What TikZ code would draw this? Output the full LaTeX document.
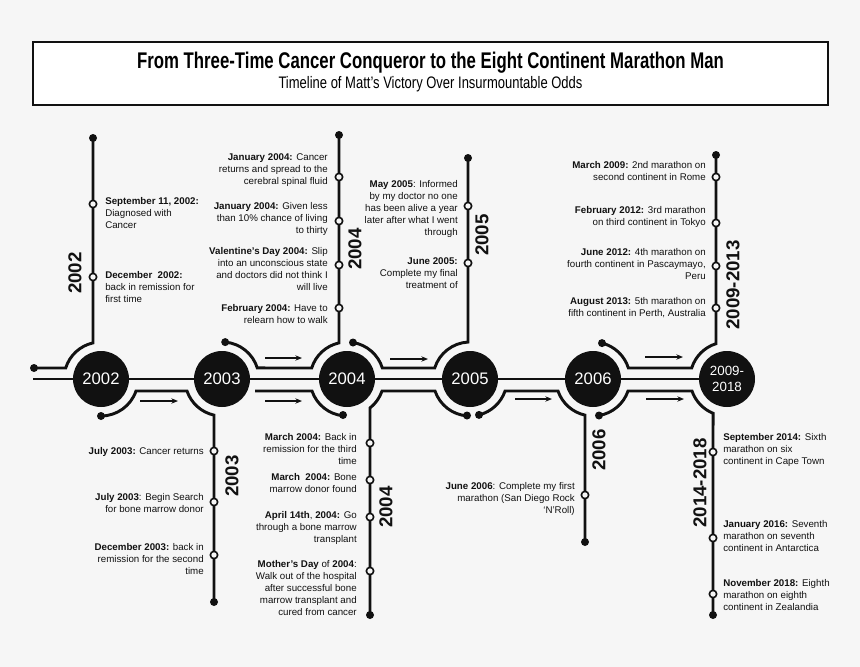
\documentclass[tikz,border=0pt]{standalone}
\usepackage{fontspec}
\setmainfont{Liberation Sans}
\usetikzlibrary{arrows.meta}
\definecolor{bg}{HTML}{F6F6F6}
\definecolor{ink}{HTML}{111111}
\begin{document}
\begin{tikzpicture}[x=0.75pt,y=-0.75pt,
  track/.style={draw=ink,line width=2.2pt},
  mainl/.style={draw=ink,line width=1.5pt},
  yr/.style={circle,fill=ink,minimum size=42pt,inner sep=0,text=white,font=\fontsize{12.5}{13}\selectfont},
  enddot/.style={circle,fill=ink,minimum size=6pt,inner sep=0},
  mk/.style={circle,draw=ink,fill=bg,line width=1.2pt,minimum size=5.5pt,inner sep=0},
  arr/.style={draw=ink,line width=1pt,-{Stealth[length=5pt,width=4pt]}},
  lab/.style={rotate=90,font=\bfseries\fontsize{14}{14}\selectfont,text=ink},
  txl/.style={anchor=north east,align=right,inner sep=0,font=\fontsize{7.3}{9}\selectfont,text=ink},
  txr/.style={anchor=north west,align=left,inner sep=0,font=\fontsize{7.3}{9}\selectfont,text=ink}]
\fill[bg] (0,0) rectangle (860,667);
\useasboundingbox (0,0) rectangle (860,667);
% title
\node[draw=ink,line width=1.6pt,minimum width=596pt,minimum height=47pt,fill=white] (tbox) at (430.5,73.5) {};
\node (t1) at (430.5,63) {\scalebox{0.74}[1]{\bfseries\fontsize{17}{18}\selectfont From Three-Time Cancer Conqueror to the Eight Continent Marathon Man}};
\node (t2) at (430.5,84) {\scalebox{0.78}[1]{\fontsize{12.5}{13}\selectfont Timeline of Matt’s Victory Over Insurmountable Odds}};
% main line
\draw[mainl] (33,379) -- (727,379);
% tracks
\draw[track] (34,368) -- (65.7,368) arc[start angle=197.3,end angle=257.5,radius=37] -- (93,138);
\draw[track] (101,416) arc[start angle=90,end angle=18.9,radius=37] -- (187,391) arc[start angle=161.1,end angle=102.5,radius=37] -- (214,602);
\draw[track] (225.2,342.1) arc[start angle=-85,end angle=-17.3,radius=37] -- (311.7,368) arc[start angle=197.3,end angle=257.5,radius=37] -- (339,135);
\draw[track] (255,391) -- (312,391) arc[start angle=161.1,end angle=96,radius=37];
\draw[track] (370,615) -- (370,408) arc[start angle=51.6,end angle=18.9,radius=37] -- (435,391) arc[start angle=161.1,end angle=94.6,radius=37];
\draw[track] (353,342.5) arc[start angle=-80.7,end angle=-17.3,radius=37] -- (434.7,368) arc[start angle=197.3,end angle=266.9,radius=37] -- (468,158);
\draw[track] (479,414.9) arc[start angle=76,end angle=18.9,radius=37] -- (558,391) arc[start angle=161.1,end angle=102.5,radius=37] -- (585,542);
\draw[track] (602,343.1) arc[start angle=-76,end angle=-17.3,radius=37] -- (691.7,368) arc[start angle=197.3,end angle=252.7,radius=37] -- (716,155);
\draw[track] (599,415.5) arc[start angle=80.7,end angle=18.9,radius=37] -- (692,391) arc[start angle=161.1,end angle=112.2,radius=37] -- (713,615);
% end dots
\foreach \p/\n in {{(34,368)}/d1,{(93,138)}/d2,{(101,416)}/d3,{(214,602)}/d4,{(225.2,342.1)}/d5,{(339,135)}/d6,{(343,415)}/d7,{(370,615)}/d8,{(467,415.5)}/d9,{(353,342.5)}/d10,{(468,158)}/d11,{(479,414.9)}/d12,{(585,542)}/d13,{(602,343.1)}/d14,{(716,155)}/d15,{(599,415.5)}/d16,{(713,615)}/d17}
  \node[enddot] (\n) at \p {};
% year circles
\node[yr] (y2002) at (101,379) {2002};
\node[yr] (y2003) at (222,379) {2003};
\node[yr] (y2004) at (347,379) {2004};
\node[yr] (y2005) at (470,379) {2005};
\node[yr] (y2006) at (593,379) {2006};
\node[yr,align=center,font=\fontsize{10}{12}\selectfont] (y2009) at (727,379) {2009-\\2018};
% arrows
\draw[arr] (140,401) -- (178,401);
\draw[arr] (265,358) -- (302,358);
\draw[arr] (265,401) -- (302,401);
\draw[arr] (390,359) -- (428,359);
\draw[arr] (515,399) -- (552,399);
\draw[arr] (645,357) -- (683,357);
\draw[arr] (646,399) -- (684,399);
% markers
\foreach \p/\n in {{(93,204)}/m1,{(93,277)}/m2,{(339,177)}/m3,{(339,221)}/m4,{(339,265)}/m5,{(339,308)}/m6,{(214,451)}/m7,{(214,502)}/m8,{(214,555)}/m9,{(370,443)}/m10,{(370,480)}/m11,{(370,517)}/m12,{(370,571)}/m13,{(468,206)}/m14,{(468,263)}/m15,{(585,495)}/m16,{(716,177)}/m17,{(716,223)}/m18,{(716,266)}/m19,{(716,308)}/m20,{(713,452)}/m21,{(713,538)}/m22,{(713,594)}/m23}
  \node[mk] (\n) at \p {};
% year labels
\node[lab] (l1) at (75,273) {2002};
\node[lab] (l2) at (232,476) {2003};
\node[lab] (l3) at (355,249) {2004};
\node[lab] (l4) at (386,507) {2004};
\node[lab] (l5) at (482,235) {2005};
\node[lab] (l6) at (599,450) {2006};
\node[lab] (l7) at (733,285) {2009-2013};
\node[lab] (l8) at (700,483) {2014-2018};
% texts
\node[txr] (a1) at (105,197) {\textbf{September 11, 2002:}\\Diagnosed with\\Cancer};
\node[txr] (a2) at (105,271) {\textbf{December\ \ 2002:}\\back in remission for\\first time};
\node[txl] (a3) at (328,153) {\textbf{January 2004:} Cancer\\returns and spread to the\\cerebral spinal fluid};
\node[txl] (a4) at (328,202) {\textbf{January 2004:} Given less\\than 10\% chance of living\\to thirty};
\node[txl] (a5) at (328,247) {\textbf{Valentine’s Day 2004:} Slip\\into an unconscious state\\and doctors did not think I\\will live};
\node[txl] (a6) at (328,304) {\textbf{February 2004:} Have to\\relearn how to walk};
\node[txl] (a7) at (204,447) {\textbf{July 2003:} Cancer returns};
\node[txl] (a8) at (204,493) {\textbf{July 2003}: Begin Search\\for bone marrow donor};
\node[txl] (a9) at (204,543) {\textbf{December 2003:} back in\\remission for the second\\time};
\node[txl] (a10) at (357,433) {\textbf{March 2004:} Back in\\remission for the third\\time};
\node[txl] (a11) at (357,473) {\textbf{March\ \ 2004:} Bone\\marrow donor found};
\node[txl] (a12) at (357,511) {\textbf{April 14th}, \textbf{2004:} Go\\through a bone marrow\\transplant};
\node[txl] (a13) at (357,560) {\textbf{Mother’s Day} of \textbf{2004}:\\Walk out of the hospital\\after successful bone\\marrow transplant and\\cured from cancer};
\node[txl] (a14) at (458,180) {\textbf{May 2005}: Informed\\by my doctor no one\\has been alive a year\\later after what I went\\through};
\node[txl] (a15) at (458,257) {\textbf{June 2005:}\\Complete my final\\treatment of};
\node[txl] (a16) at (575,482) {\textbf{June 2006}: Complete my first\\marathon (San Diego Rock\\‘N’Roll)};
\node[txl] (a17) at (706,161) {\textbf{March 2009:} 2nd marathon on\\second continent in Rome};
\node[txl] (a18) at (706,206) {\textbf{February 2012:} 3rd marathon\\on third continent in Tokyo};
\node[txl] (a19) at (706,248) {\textbf{June 2012:} 4th marathon on\\fourth continent in Pascaymayo,\\Peru};
\node[txl] (a20) at (706,297) {\textbf{August 2013:} 5th marathon on\\fifth continent in Perth, Australia};
\node[txr] (a21) at (723,433) {\textbf{September 2014:} Sixth\\marathon on six\\continent in Cape Town};
\node[txr] (a22) at (723,520) {\textbf{January 2016:} Seventh\\marathon on seventh\\continent in Antarctica};
\node[txr] (a23) at (723,579) {\textbf{November 2018:} Eighth\\marathon on eighth\\continent in Zealandia};
\end{tikzpicture}
\end{document}
